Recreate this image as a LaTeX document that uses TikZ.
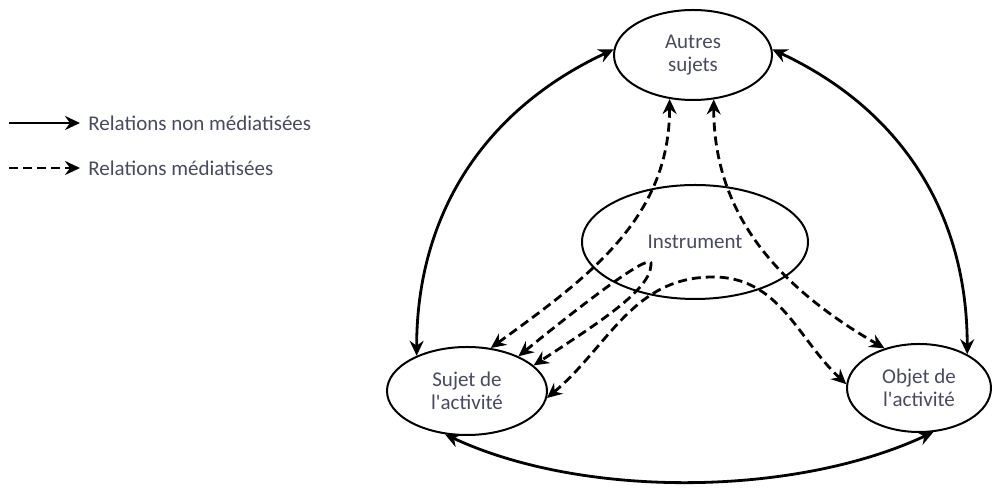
\documentclass[tikz,border=0pt]{standalone}
\usepackage{fontspec}
\setmainfont{Carlito}
\usetikzlibrary{arrows.meta,shapes.geometric}

\definecolor{labelgray}{RGB}{72,74,96}
\tikzset{
  pole/.style={draw, line width=1pt, ellipse, inner sep=0pt, align=center,
    text=labelgray, font=\fontsize{10.5}{11.5}\selectfont},
  key/.style={anchor=west, inner sep=4pt, text=labelgray, font=\fontsize{10.5}{12}\selectfont},
  direct/.style={line width=1.4pt},
  mediated/.style={line width=1.4pt, dash pattern=on 4.5pt off 2.5pt}
}

\begin{document}
\begin{tikzpicture}[x=0.5pt, y=0.5pt, >={Stealth[length=7.5pt, width=7pt, inset=2.5pt]}]
  \useasboundingbox (0,0) rectangle (993,-490);

  \node[pole, minimum width=79pt, minimum height=45pt] (autres) at (693,-55) {Autres\\sujets};
  \node[pole, minimum width=113pt, minimum height=57pt] (instrument) at (695,-242) {Instrument};
  \node[pole, minimum width=80pt, minimum height=44pt] (sujet) at (467,-391) {Sujet de\\l\textquotesingle activité};
  \node[pole, minimum width=72pt, minimum height=44pt] (objet) at (919,-388) {Objet de\\l\textquotesingle activité};

  % legend
  \coordinate (solidtail) at (9,-123);
  \coordinate (dashtail) at (9,-168);
  \node[key] (solidkey) at (80,-123) {Relations non médiatisées};
  \node[key] (dashkey) at (80,-168) {Relations médiatisées};
  \draw[direct, ->] (solidtail) -- (solidkey.west);
  \draw[mediated, ->] (dashtail) -- (dashkey.west);

  % non mediated
  \draw[direct, <->] (autres.176) to[out=205, in=90] (sujet.145);
  \draw[direct, <->] (autres.4) to[out=-25, in=90] (objet.35);
  \draw[direct, <->] (sujet.243) to[out=-25, in=205, looseness=0.8] (objet.288);

  % mediated
  \coordinate (loop) at (651,-265);
  \coordinate (peak) at (713,-277);
  \draw[mediated, <->] (sujet.61) to[out=36, in=270] (autres.242);
  \draw[mediated, <->] (autres.295) to[out=270, in=150] (objet.131);
  \draw[mediated, <->] (sujet.34) .. controls (600,-290) and (655,-250) .. (loop)
    .. controls (650,-290) and (600,-322) .. (sujet.21);
  \draw[mediated, <->] (sujet.355) to[out=40, in=180] (peak) to[out=0, in=137] (objet.177);
\end{tikzpicture}
\end{document}
